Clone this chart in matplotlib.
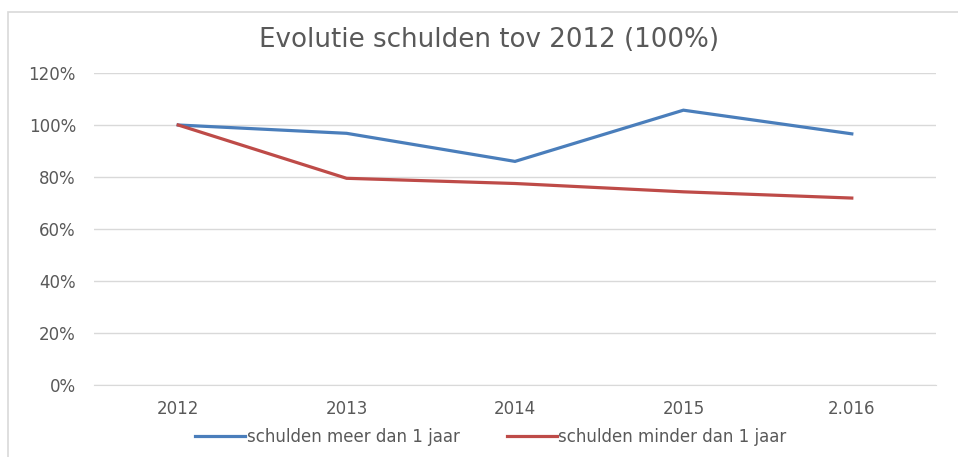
import matplotlib.pyplot as plt
from matplotlib.patches import Rectangle
from matplotlib.ticker import PercentFormatter

years = ["2012", "2013", "2014", "2015", "2.016"]
meer_dan_1_jaar = [100, 96.8, 86.0, 105.7, 96.6]
minder_dan_1_jaar = [100, 79.5, 77.5, 74.3, 71.9]

plt.rcParams['font.family'] = ['DejaVu Sans']

fig = plt.figure(figsize=(9.58, 4.57), dpi=100)
ax = fig.add_axes([94 / 958, 1 - 385 / 457, 842 / 958, 312 / 457])

x = range(len(years))
ax.plot(x, meer_dan_1_jaar, color='#4A7EBB', lw=2.3, label='schulden meer dan 1 jaar',
        solid_joinstyle='miter')
ax.plot(x, minder_dan_1_jaar, color='#BE4B48', lw=2.3, label='schulden minder dan 1 jaar',
        solid_joinstyle='miter')

ax.set_xlim(-0.5, len(years) - 0.5)
ax.set_ylim(0, 120)
ax.set_yticks(range(0, 121, 20))
ax.yaxis.set_major_formatter(PercentFormatter(decimals=0))
ax.set_xticks(list(x))
ax.set_xticklabels(years)
ax.grid(axis='y', color='#D9D9D9', lw=1)
ax.set_axisbelow(True)
for s in ax.spines.values():
    s.set_visible(False)
ax.spines['bottom'].set_visible(True)
ax.spines['bottom'].set_color('#D9D9D9')
ax.tick_params(length=0, labelsize=12, colors='#595959')
ax.tick_params(axis='y', pad=13)
ax.tick_params(axis='x', pad=11)

fig.text(489 / 958, 1 - 40 / 457, 'Evolutie schulden tov 2012 (100%)', ha='center', va='center',
         fontsize=18.8, color='#595959')

fig.legend(loc='center', bbox_to_anchor=(491 / 958, 1 - 437 / 457), ncol=2, frameon=False,
           fontsize=12, labelcolor='#595959', handlelength=3.0, handletextpad=0.1,
           columnspacing=2.8)

fig.patches.append(Rectangle((8 / 958, -0.05), 1.05, 1 - 12 / 457 + 0.05, transform=fig.transFigure,
                             fill=False, edgecolor='#D9D9D9', lw=1.2))

fig.savefig('out.png', dpi=100)
